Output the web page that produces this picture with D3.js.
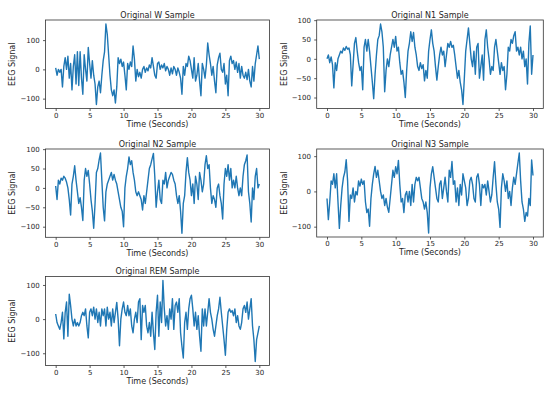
<!DOCTYPE html>
<html>
<head>
<meta charset="utf-8">
<script src="https://cdn.jsdelivr.net/npm/d3@7"></script>
<style>
body { margin: 0; background: #fff; }
text { font-family: "DejaVu Sans", sans-serif; fill: #262626; }
.tick line { stroke: #333; stroke-width: 0.8; }
.signal { fill: none; stroke: #1f77b4; stroke-width: 1.4; stroke-linejoin: round; }
</style>
</head>
<body>
<svg id="chart" width="550" height="394"></svg>
<script>
// 30 s epochs, one value every 0.2 s
var timeTicks = [0, 5, 10, 15, 20, 25, 30];
var ticks3 = [-100, 0, 100];
var ticks5 = [-100, -50, 0, 50, 100];

var wSignal = [5,-20,0,-10,0,-60,10,40,0,45,
  -30,20,-70,10,50,-50,60,-55,60,-30,
  -85,50,0,-40,75,20,-30,30,-20,-50,
  -120,-60,-40,-80,-20,30,60,155,120,50,
  -20,-70,-90,-70,-115,-60,40,20,35,10,
  25,-20,-70,20,0,25,10,80,35,-40,
  0,-25,-10,-30,0,10,-10,5,-5,15,
  5,40,10,-20,-30,20,25,0,15,5,
  20,-5,10,0,-20,5,-15,10,0,-20,
  5,-10,-30,-85,10,-20,20,10,45,30,
  0,-30,40,-40,-20,20,-40,-90,20,0,
  -30,15,90,50,20,-20,10,-40,-80,15,
  40,55,0,-10,20,-50,-20,-90,30,45,
  20,30,0,25,-10,20,-30,10,-20,-30,
  -10,-35,0,-40,-60,10,-40,20,50,80,
  35];

var n1Signal = [0,10,-10,5,-15,-75,-10,-30,0,10,
  20,15,28,22,32,25,28,10,-70,-15,
  40,55,20,-10,-30,-20,-80,30,50,20,
  50,20,-20,-60,-103,-40,10,50,60,90,
  70,30,-85,-30,0,-20,10,30,50,30,
  58,20,30,-10,-40,-30,-60,-100,-30,20,
  40,70,45,68,30,10,-20,-30,-10,-25,
  -15,-57,-30,-50,20,50,75,40,20,-20,
  -55,-20,10,30,10,20,-20,10,40,30,
  45,30,35,10,-20,-50,-30,-60,-80,-118,
  -50,20,50,80,40,0,-20,20,-40,30,
  40,-50,-20,10,-55,50,75,30,0,-40,
  -20,-30,30,50,20,-10,-40,-10,-30,-20,
  -80,-40,30,20,50,40,60,70,20,30,
  10,30,0,20,-20,0,-65,40,85,-40,
  10];

var n2Signal = [5,-30,20,10,25,20,30,25,15,0,
  -30,-70,10,30,57,20,-10,-40,-25,-50,
  -84,20,50,30,45,10,-30,-60,-104,-40,
  40,50,72,90,20,-50,-85,-10,10,20,
  30,40,20,35,20,10,-10,-30,-50,-60,
  -100,0,30,50,80,60,70,40,20,-10,
  -20,-10,-20,-30,-57,-20,-40,-10,20,50,
  60,75,89,30,-50,-10,20,-30,-40,20,
  10,40,0,20,30,40,35,20,10,-20,
  -40,-20,-60,-117,-40,-20,40,78,40,20,
  -20,10,-40,30,10,-30,40,20,-10,10,
  60,83,50,60,0,-40,-20,-30,-50,0,
  10,-20,-40,-80,10,50,30,60,20,50,
  0,20,0,30,0,-20,0,-20,30,60,
  70,85,-10,-40,-88,0,-30,30,50,0,
  10];

var n3Signal = [-20,-80,-30,30,20,50,10,50,-30,-105,
  -40,10,40,55,90,30,-85,-10,-20,10,
  -30,0,-10,30,15,35,20,30,-30,-60,
  -50,-99,-20,20,50,71,40,60,30,0,
  -20,-10,-40,-20,-45,-59,-20,20,60,40,
  70,50,88,20,-30,-20,-60,-10,0,-30,
  0,-40,20,-30,20,40,30,40,10,-20,
  -30,-50,-30,-60,-118,10,50,70,40,10,
  -20,-30,20,30,-20,10,40,0,-30,60,
  40,85,20,30,-30,10,-40,20,-10,50,
  30,10,-40,-20,30,40,20,-20,-30,40,
  50,20,-40,20,10,20,-10,30,0,-30,
  -10,40,84,20,-30,-50,-102,10,50,30,
  0,30,-20,0,-40,10,40,20,50,80,
  109,30,-30,-50,-85,-60,-70,-20,-40,89,
  45];

var remSignal = [15,-10,-20,-30,-10,20,-58,20,50,-50,
  73,40,0,-20,0,-20,-10,-20,-10,10,
  20,10,30,-20,-55,20,30,10,35,0,
  30,-10,20,-20,30,10,30,-20,35,0,
  20,-20,30,-10,20,49,0,-78,0,30,
  50,20,10,40,10,30,-20,-40,0,20,
  -10,50,60,-60,40,20,40,-20,-40,-10,
  -50,20,-40,-89,20,70,-50,50,-10,113,
  30,-20,10,-30,30,0,60,-30,40,50,
  20,60,-40,-80,-114,-10,20,-30,30,60,
  70,30,-20,20,-30,10,-50,-94,30,-20,
  30,-20,20,60,20,0,-30,-50,-20,10,
  30,64,20,-20,-60,-106,-30,20,30,20,
  25,10,30,-10,10,-20,-30,-10,30,40,
  20,50,0,30,60,-20,-60,-124,-60,-40,
  -20];

var panels = [
  {title: "Original W Sample",   values: wSignal,   yTicks: ticks3, left: 45.5,  top: 20,    width: 224,   height: 88.5},
  {title: "Original N1 Sample",  values: n1Signal,  yTicks: ticks5, left: 316.7, top: 20,    width: 226.6, height: 88.5},
  {title: "Original N2 Sample",  values: n2Signal,  yTicks: ticks5, left: 45.5,  top: 149,   width: 224,   height: 88.3},
  {title: "Original N3 Sample",  values: n3Signal,  yTicks: ticks3, left: 316.7, top: 149,   width: 226.6, height: 88},
  {title: "Original REM Sample", values: remSignal, yTicks: ticks3, left: 45.5,  top: 276.5, width: 224,   height: 89}
];

var svg = d3.select("#chart");

panels.forEach(function(p) {
	var g = svg.append("g").attr("transform", "translate(" + p.left + "," + p.top + ")");
	var dt = 30 / (p.values.length - 1);

	var x = d3.scaleLinear().domain([-1.5, 31.5]).range([0, p.width]);
	var ext = d3.extent(p.values);
	var pad = (ext[1] - ext[0]) * 0.05;
	var y = d3.scaleLinear().domain([ext[0] - pad, ext[1] + pad]).range([p.height, 0]);

	var line = d3.line()
		.x(function(d, i) { return x(i * dt); })
		.y(function(d) { return y(d); });

	g.append("path")
		.datum(p.values)
		.attr("class", "signal")
		.attr("d", line);

	// frame
	g.append("rect")
		.attr("width", p.width)
		.attr("height", p.height)
		.attr("fill", "none")
		.attr("stroke", "#333")
		.attr("stroke-width", 0.8);

	var xAxis = g.append("g")
		.attr("transform", "translate(0," + p.height + ")")
		.call(d3.axisBottom(x).tickValues(timeTicks).tickSize(2.5).tickPadding(1.8).tickSizeOuter(0));
	xAxis.select(".domain").remove();
	xAxis.selectAll("text").style("font-size", "7px").style("font-family", "DejaVu Sans");

	var yAxis = g.append("g")
		.call(d3.axisLeft(y).tickValues(p.yTicks).tickSize(2.5).tickPadding(3.3).tickSizeOuter(0));
	yAxis.select(".domain").remove();
	yAxis.selectAll("text").style("font-size", "7px").style("font-family", "DejaVu Sans");

	g.append("text")
		.attr("x", p.width / 2)
		.attr("y", -2.5)
		.attr("text-anchor", "middle")
		.style("font-size", "8px")
		.text(p.title);

	g.append("text")
		.attr("x", p.width / 2)
		.attr("y", p.height + 18.3)
		.attr("text-anchor", "middle")
		.style("font-size", "8px")
		.text("Time (Seconds)");

	g.append("text")
		.attr("transform", "translate(-33," + (p.height / 2) + ") rotate(-90)")
		.attr("dy", "0.35em")
		.attr("text-anchor", "middle")
		.style("font-size", "8px")
		.text("EEG Signal");
});
</script>
</body>
</html>
